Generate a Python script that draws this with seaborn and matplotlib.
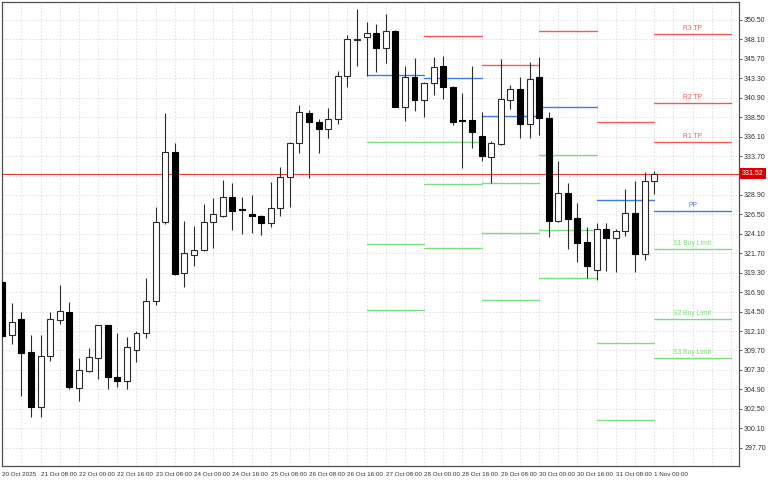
import seaborn as sns
import pandas as pd
import numpy as np
import matplotlib.pyplot as plt
import matplotlib.transforms as mtransforms

# 4H candles (index 0 = 20 Oct 2025)
opens = [318.15, 311.57, 313.55, 309.51, 302.72, 309.02, 313.50, 314.49, 305.11, 307.21,
         308.77, 312.80, 306.39, 305.89, 309.76, 311.82, 315.85, 325.52, 334.24, 319.22,
         321.49, 322.10, 325.60, 326.34, 328.69, 327.16, 326.55, 326.34, 325.40, 327.25,
         331.16, 335.35, 339.06, 337.95, 337.04, 338.24, 343.63, 348.05, 348.36, 348.85,
         347.00, 349.18, 339.72, 343.42, 340.63, 342.68, 344.82, 342.19, 338.10, 338.16,
         336.22, 333.63, 335.23, 340.58, 341.94, 337.62, 343.42, 338.44, 325.68, 329.18,
         326.01, 323.05, 319.60, 324.66, 323.55, 324.41, 326.71, 321.61, 330.66]
highs = [318.30, 315.52, 314.41, 311.60, 311.60, 314.41, 317.78, 315.73, 308.73, 309.96,
         312.90, 312.90, 311.90, 311.41, 312.15, 318.69, 327.37, 339.06, 335.27, 325.72,
         325.11, 327.74, 328.48, 330.70, 330.33, 328.69, 328.90, 326.40, 330.46, 332.39,
         335.40, 340.00, 339.39, 338.23, 339.59, 344.20, 348.65, 351.82, 350.30, 349.97,
         351.20, 349.30, 344.86, 345.77, 342.90, 345.89, 346.06, 342.30, 341.53, 344.82,
         339.18, 335.50, 345.65, 342.48, 343.42, 345.28, 345.89, 339.18, 333.09, 330.34,
         327.87, 324.90, 325.40, 325.48, 324.74, 329.59, 330.66, 331.69, 331.86]
lows = [311.40, 310.50, 304.12, 301.53, 301.45, 308.40, 313.01, 304.90, 303.50, 307.00,
        306.14, 304.90, 305.15, 304.90, 308.28, 311.20, 315.31, 325.30, 319.00, 317.49,
        320.17, 322.00, 322.31, 326.22, 324.57, 324.04, 324.16, 323.95, 324.98, 326.30,
        327.45, 334.04, 331.03, 334.12, 335.97, 337.60, 342.19, 344.86, 343.59, 344.04,
        345.15, 339.70, 338.07, 339.31, 338.57, 341.24, 340.75, 337.54, 332.27, 334.74,
        333.09, 330.34, 335.10, 339.51, 335.97, 335.98, 336.30, 323.67, 325.52, 322.19,
        320.66, 318.69, 318.40, 319.56, 319.35, 323.83, 319.35, 320.87, 329.02]
closes = [311.50, 313.17, 309.35, 302.76, 309.02, 313.55, 314.53, 305.23, 307.29, 308.85,
          312.80, 306.39, 305.97, 310.17, 311.82, 315.85, 325.52, 334.24, 319.14, 321.69,
          322.10, 325.60, 326.50, 328.69, 326.96, 327.04, 326.34, 325.40, 327.25, 331.16,
          335.35, 339.18, 337.95, 337.04, 338.23, 343.63, 348.11, 348.10, 348.85, 347.00,
          349.18, 339.80, 343.42, 340.63, 342.68, 344.74, 342.19, 337.95, 338.05, 336.63,
          333.71, 335.28, 340.71, 341.94, 337.62, 343.18, 338.44, 325.68, 329.18, 325.93,
          323.00, 320.17, 324.66, 323.55, 324.45, 326.63, 321.61, 330.66, 331.52]

tick_labels = ["20 Oct 2025", "21 Oct 08:00", "22 Oct 00:00", "22 Oct 16:00", "23 Oct 08:00",
               "24 Oct 00:00", "24 Oct 16:00", "25 Oct 08:00", "26 Oct 08:00", "26 Oct 16:00",
               "27 Oct 08:00", "28 Oct 00:00", "28 Oct 16:00", "29 Oct 08:00", "30 Oct 00:00",
               "30 Oct 16:00", "31 Oct 08:00", "1 Nov 00:00"]
price_ticks = [297.70, 300.10, 302.50, 304.90, 307.30, 309.70, 312.10, 314.50, 316.90,
               319.30, 321.70, 324.10, 326.50, 328.90, 331.30, 333.70, 336.10, 338.50,
               340.90, 343.30, 345.70, 348.10, 350.50]

# daily pivot segments (candle index start/end) and levels
seg_start = [38, 44, 50, 56, 62, 68]
seg_end = [44, 50, 56, 62, 68, 76]
r3 = [np.nan, np.nan, np.nan, np.nan, np.nan, 348.81]
r2 = [np.nan, np.nan, np.nan, np.nan, np.nan, 340.21]
r1 = [np.nan, 348.52, 344.94, 349.10, 337.87, 335.48]
pp = [343.67, 343.30, 338.61, 339.76, 328.28, 326.88]
s1 = [335.48, 335.48, 330.34, 333.83, 310.67, 322.19]
s2 = [322.81, 330.21, 324.16, 324.58, 301.12, 313.63]
s3 = [314.66, 322.35, 315.89, 318.69, np.nan, 308.81]
level_names = ["R3 TP", "R2 TP", "R1 TP", "PP", "S1 Buy Limit", "S2 Buy Limit", "S3 Buy Limit"]
last_price = 331.52

RED = "#f25a5a"
BLUE = "#3f7bdc"
GREEN = "#7edc7e"

sns.set_theme(style="white")
plt.rcParams['font.family'] = ['Liberation Sans', 'DejaVu Sans']

fig = plt.figure(figsize=(7.68, 4.8), dpi=100)
ax = fig.add_axes([2 / 768, 14 / 480, 737 / 768, 464 / 480])

x = np.arange(len(opens))
o = np.array(opens)
c = np.array(closes)
up = c >= o

ax.vlines(x, lows, highs, color="#2a2a2a", lw=0.8, zorder=3)
ax.bar(x[up], np.maximum(c[up] - o[up], 0.04), bottom=o[up], width=0.62,
       color="white", edgecolor="#2a2a2a", linewidth=0.8, zorder=4)
ax.bar(x[~up], np.maximum(o[~up] - c[~up], 0.04), bottom=c[~up], width=0.62,
       color="black", edgecolor="black", linewidth=0.8, zorder=4)

# pivot lines
rows = []
levels = [r3, r2, r1, pp, s1, s2, s3]
kinds = ["R", "R", "R", "P", "S", "S", "S"]
for k, (vals, kind) in enumerate(zip(levels, kinds)):
    for i in range(len(seg_start)):
        if np.isnan(vals[i]):
            continue
        sid = f"{k}_{i}"
        rows.append({"seg": sid, "kind": kind, "x": seg_start[i], "y": vals[i]})
        rows.append({"seg": sid, "kind": kind, "x": seg_end[i], "y": vals[i]})
lines = pd.DataFrame(rows)
sns.lineplot(data=lines, x="x", y="y", hue="kind", units="seg", estimator=None,
             palette={"R": RED, "P": BLUE, "S": GREEN}, legend=False, lw=1.0,
             ax=ax, zorder=2)

mid = (seg_start[-1] + seg_end[-1]) / 2
for name, vals, kind in zip(level_names, levels, kinds):
    col = {"R": RED, "P": BLUE, "S": GREEN}[kind]
    ax.text(mid, vals[-1] + 0.25, name, color=col, fontsize=4.9,
            ha="center", va="bottom", zorder=5)

# last price line + tag (covers the 331.30 grid label)
ax.axhline(last_price, color="#e23b3b", lw=0.8, zorder=2)
trans = mtransforms.blended_transform_factory(ax.transAxes, ax.transData)
ax.text(1.004, last_price, f"{last_price:.2f}", transform=trans, color="white",
        fontsize=5.0, ha="left", va="center", clip_on=False,
        bbox=dict(facecolor="#d90000", edgecolor="none", pad=1.3))

ax.set_xlim(-0.03, 76.85)
ax.set_ylim(295.44, 352.72)

ax.set_xticks(np.arange(0, 69, 4))
ax.set_xticklabels(tick_labels, ha="left", fontsize=4.5, color="#303030")
ax.set_xticks(np.arange(0, 77, 2), minor=True)
ax.yaxis.tick_right()
ax.set_yticks(price_ticks)
ax.set_yticklabels(["" if abs(v - last_price) < 1 else f"{v:.2f}" for v in price_ticks],
                   fontsize=5.0, color="#303030")
ax.tick_params(axis="x", which="major", length=3, width=0.6, pad=1.5, color="#404040")
ax.tick_params(axis="x", which="minor", length=0)
ax.tick_params(axis="y", length=2.5, width=0.6, pad=1.2, color="#404040")
ax.set_xlabel("")
ax.set_ylabel("")

ax.grid(True, which="both", color="#dcdcdc", linestyle=(0, (2, 2)), linewidth=0.6)
ax.set_axisbelow(True)
for sp in ax.spines.values():
    sp.set_color("#505050")
    sp.set_linewidth(0.9)
    sp.set_visible(True)

fig.savefig("out.png", dpi=100)
